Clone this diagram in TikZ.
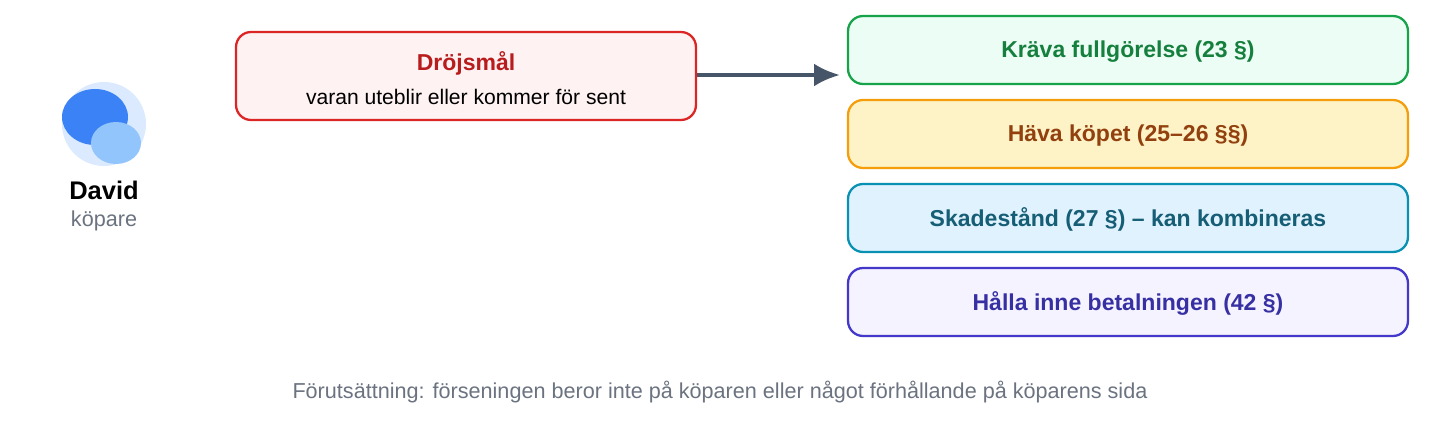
\documentclass[tikz,border=0pt]{standalone}
\usepackage{fontspec}
\setmainfont{Liberation Sans}
\usepackage{tikz}
\usetikzlibrary{arrows.meta}
\definecolor{redline}{HTML}{DC2626}\definecolor{redfill}{HTML}{FEF2F2}\definecolor{redtext}{HTML}{B91C1C}
\definecolor{grnline}{HTML}{16A34A}\definecolor{grnfill}{HTML}{ECFDF5}\definecolor{grntext}{HTML}{15803D}
\definecolor{orgline}{HTML}{F59E0B}\definecolor{orgfill}{HTML}{FEF3C7}\definecolor{orgtext}{HTML}{92400E}
\definecolor{cyaline}{HTML}{0891B2}\definecolor{cyafill}{HTML}{E0F2FE}\definecolor{cyatext}{HTML}{155E75}
\definecolor{purline}{HTML}{4338CA}\definecolor{purfill}{HTML}{F5F3FF}\definecolor{purtext}{HTML}{3730A3}
\definecolor{arrowgray}{HTML}{475569}\definecolor{subgray}{HTML}{6B7280}
\definecolor{avatarbg}{HTML}{DBEAFE}
\tikzset{
  box/.style={draw, line width=1.3pt, rounded corners=0.3cm, align=center},
  remedy/.style={box, minimum width=11.2cm, minimum height=1.36cm, text depth=0.05cm, font=\fontsize{13.1}{15}\selectfont\bfseries},
}
\begin{document}
\begin{tikzpicture}[x=0.02cm,y=-0.02cm]
    \useasboundingbox (0,0) rectangle (1440,432);

    % buyer avatar
    \fill [avatarbg] (104,124) circle [radius=42];
    \fill [fill={rgb,255:red,59;green,130;blue,246}] (95,117) ellipse [x radius=33, y radius=28];
    \fill [fill={rgb,255:red,147;green,197;blue,253}] (116,143) ellipse [x radius=25, y radius=21];
    \node (david) at (104,190) {\fontsize{14.5}{16}\selectfont\bfseries David};
    \node [text=subgray] (buyer) at (104,221) {\fontsize{12.3}{14}\selectfont köpare};

    % breach
    \node [box, draw=redline, fill=redfill, minimum width=9.2cm, minimum height=1.76cm] (delay) at (466,76) {};
    \node [text=redtext] (delaytitle) at (466,63) {\fontsize{13.1}{15}\selectfont\bfseries Dröjsmål};
    \node (delaysub) at (466,97) {\fontsize{12}{14}\selectfont varan uteblir eller kommer för sent};

    % remedies
    \node [remedy, draw=grnline, fill=grnfill, text=grntext] (claim) at (1128,50) {Kräva fullgörelse (23 §)};
    \node [remedy, draw=orgline, fill=orgfill, text=orgtext] (cancel) at (1128,134) {Häva köpet (25–26 §§)};
    \node [remedy, draw=cyaline, fill=cyafill, text=cyatext] (damages) at (1128,218) {Skadestånd (27 §) – kan kombineras};
    \node [remedy, draw=purline, fill=purfill, text=purtext] (withhold) at (1128,302) {Hålla inne betalningen (42 §)};

    \coordinate (arrowend) at (840,75);
    \draw [arrowgray, line width=2.4pt, -{Latex[length=0.52cm,width=0.46cm]}] (delay.east |- arrowend) -- (arrowend);

    \node [text=subgray] (premise) at (720,392) {\fontsize{12.3}{14}\selectfont Förutsättning: förseningen beror inte på köparen eller något förhållande på köparens sida};
\end{tikzpicture}
\end{document}
